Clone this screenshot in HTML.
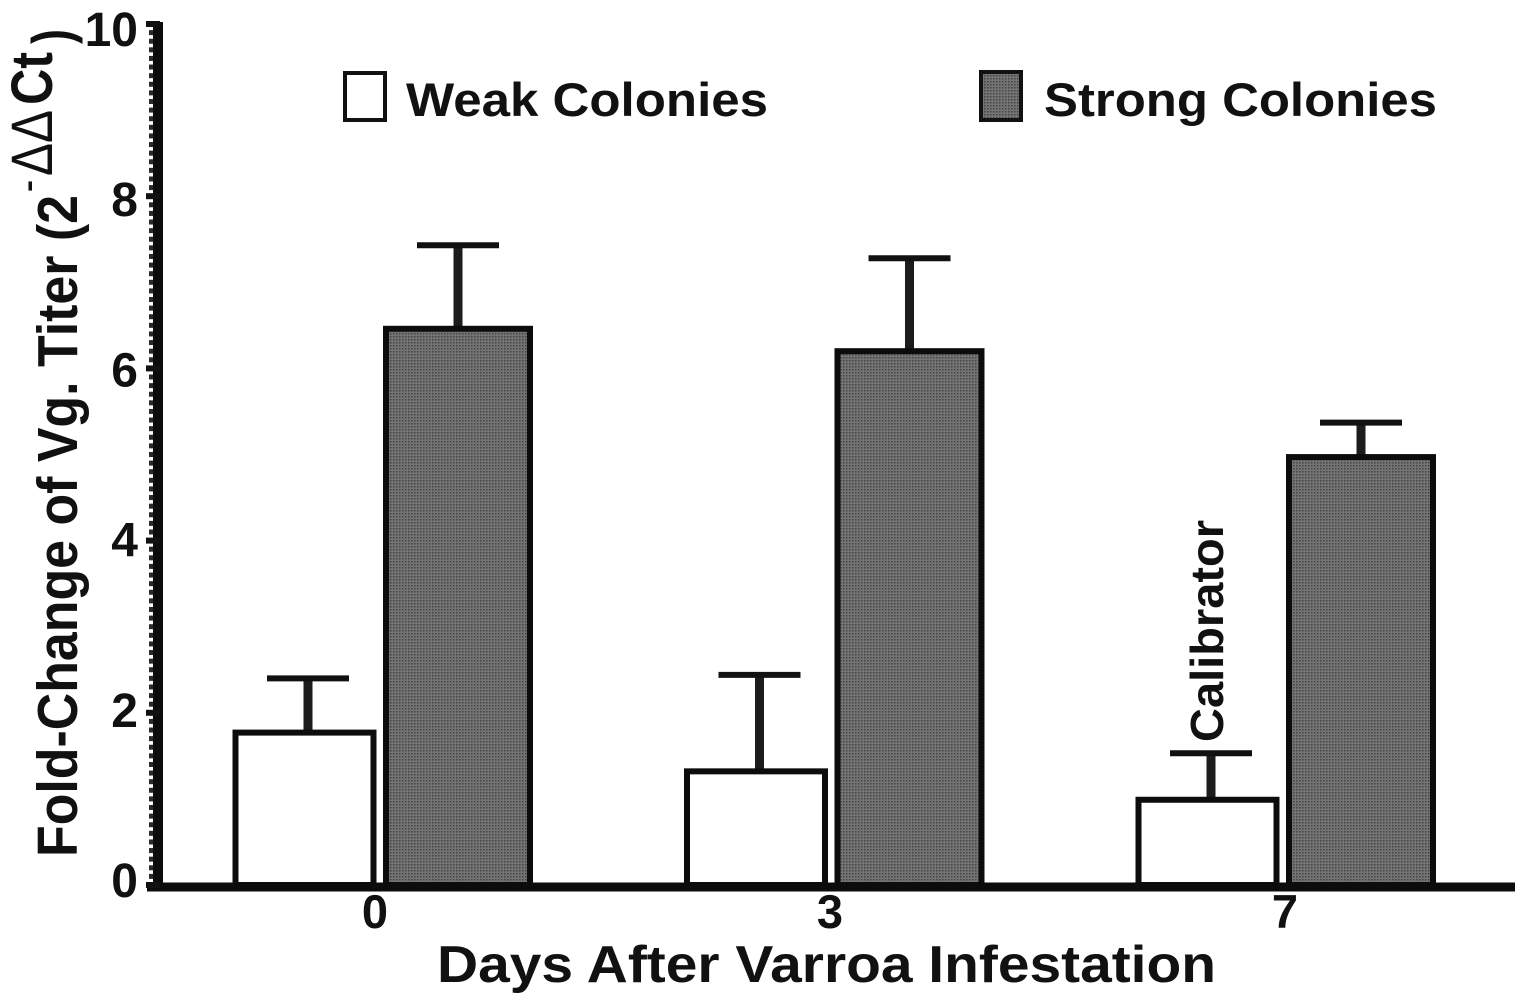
<!DOCTYPE html>
<html lang="en">
<head>
<meta charset="utf-8">
<title>Fold-Change of Vg. Titer</title>
<style>
html,body{margin:0;padding:0;background:#fff;}
svg{display:block;}
text{font-family:"Liberation Sans",sans-serif;font-weight:bold;fill:#111;}
</style>
</head>
<body>
<svg id="chart" width="1524" height="1000" viewBox="0 0 1524 1000">
  <defs>
    <pattern id="dither" width="3" height="3" patternUnits="userSpaceOnUse">
      <rect width="3" height="3" fill="#747474"/>
      <rect width="1.5" height="1.5" fill="#444"/>
    </pattern>
  </defs>
  <g id="marks"></g>
  <g id="axes"></g>

  <text x="0" y="0" transform="translate(77,857) rotate(-90)" font-size="57" textLength="662" lengthAdjust="spacingAndGlyphs">Fold-Change of Vg. Titer (2</text>
  <text x="0" y="0" transform="translate(38,192) rotate(-90)" font-size="30" textLength="12" lengthAdjust="spacingAndGlyphs">-</text>
  <text x="0" y="0" transform="translate(52,176) rotate(-90)" font-size="58" textLength="66" lengthAdjust="spacingAndGlyphs" style="font-weight:normal">ΔΔ</text>
  <text x="0" y="0" transform="translate(52,105) rotate(-90)" font-size="58" textLength="53" lengthAdjust="spacingAndGlyphs">Ct</text>
  <text x="0" y="0" transform="translate(71,44) rotate(-90)" font-size="56" textLength="15" lengthAdjust="spacingAndGlyphs">)</text>

  <text x="437" y="982" font-size="52" textLength="779" lengthAdjust="spacingAndGlyphs">Days After Varroa Infestation</text>

  <rect x="345" y="73" width="40" height="47" fill="#fff" stroke="#111" stroke-width="4"/>
  <text x="406" y="116" font-size="47" textLength="362" lengthAdjust="spacingAndGlyphs">Weak Colonies</text>
  <rect x="981" y="72" width="40" height="48" fill="url(#dither)" stroke="#111" stroke-width="4"/>
  <text x="1044" y="116" font-size="47" textLength="393" lengthAdjust="spacingAndGlyphs">Strong Colonies</text>

  <text x="0" y="0" transform="translate(1223,742) rotate(-90)" font-size="46" textLength="222" lengthAdjust="spacingAndGlyphs">Calibrator</text>

  <script>
    var categories = ['0', '3', '7'];
    var weakValues = [1.77, 1.32, 0.99];
    var strongValues = [6.46, 6.20, 4.97];
    var weakErrors = [0.63, 1.12, 0.54];
    var strongErrors = [0.97, 1.08, 0.40];
    var yTickLabels = [0, 2, 4, 6, 8, 10];
    var minorTicksPerUnit = 10;

    var NS = 'http://www.w3.org/2000/svg';
    var marks = document.getElementById('marks');
    var axes = document.getElementById('axes');

    function yScale(v) { return 885 - v * 86.1; }
    function groupCenter(i) { return 382.5 + i * 451.5; }
    function labelCenter(i) { return 375 + i * 455; }

    function make(tag, parent) {
      var el = document.createElementNS(NS, tag);
      parent.appendChild(el);
      return el;
    }
    function setAll(el, props) {
      for (var k in props) { el.setAttribute(k, props[k]); }
    }
    function drawBar(parent, cx, halfW, value, fill) {
      var el = make('rect', parent);
      setAll(el, { x: cx - halfW, y: yScale(value), width: halfW * 2, height: yScale(0) - yScale(value), fill: fill, stroke: '#0c0c0c', 'stroke-width': 6 });
      return el;
    }
    function drawError(parent, cx, value, err, capHalf) {
      var g = make('g', parent);
      var stem = make('line', g);
      setAll(stem, { x1: cx, x2: cx, y1: yScale(value), y2: yScale(value + err), stroke: '#1c1c1c', 'stroke-width': 9 });
      
      
      var cap = make('line', g);
      setAll(cap, { x1: cx - capHalf, x2: cx + capHalf, y1: yScale(value + err), y2: yScale(value + err), stroke: '#111', 'stroke-width': 6 });
      
      
      return g;
    }

    categories.forEach(function (cat, i) {
      var c = groupCenter(i);
      var weakX = c - 78;
      var strongX = c + 75.5;

      var eWeak = drawError(marks, weakX + 3.5, weakValues[i], weakErrors[i], 41);
      
      
      var eStrong = drawError(marks, strongX, strongValues[i], strongErrors[i], 41);
      
      

      var bWeak = drawBar(marks, weakX, 69, weakValues[i], '#fff');
      
      
      var bStrong = drawBar(marks, strongX, 72, strongValues[i], 'url(#dither)');
      
      

      var label = make('text', axes);
      setAll(label, { x: labelCenter(i), y: 928, 'font-size': 47, 'text-anchor': 'middle' });
      label.textContent = cat;
      
      
    });

    var lastTick = yTickLabels[yTickLabels.length - 1];
    for (var m = 0; m <= lastTick * minorTicksPerUnit; m++) {
      var minor = make('line', axes);
      var my = yScale(m / minorTicksPerUnit);
      setAll(minor, { x1: 149, x2: 156, y1: my, y2: my, stroke: '#2a2a2a', 'stroke-width': 5 });
      
      
    }

    var yAxisLine = make('line', axes);
    setAll(yAxisLine, { x1: 158, x2: 158, y1: yScale(10) - 2, y2: yScale(0), stroke: '#0c0c0c', 'stroke-width': 10 });
    
    

    var xAxisLine = make('line', axes);
    setAll(xAxisLine, { x1: 147, x2: 1515, y1: yScale(0) + 2, y2: yScale(0) + 2, stroke: '#0c0c0c', 'stroke-width': 9 });
    
    

    yTickLabels.forEach(function (v) {
      var tick = make('line', axes);
      setAll(tick, { x1: 146, x2: 160, y1: yScale(v), y2: yScale(v), stroke: '#111', 'stroke-width': 6 });
      
      

      var t = make('text', axes);
      setAll(t, { x: 138, y: yScale(v) + 17 + (v - 5), 'font-size': 48, 'text-anchor': 'end' });
      t.textContent = String(v);
      
      
    });
  </script>
</svg>
</body>
</html>
